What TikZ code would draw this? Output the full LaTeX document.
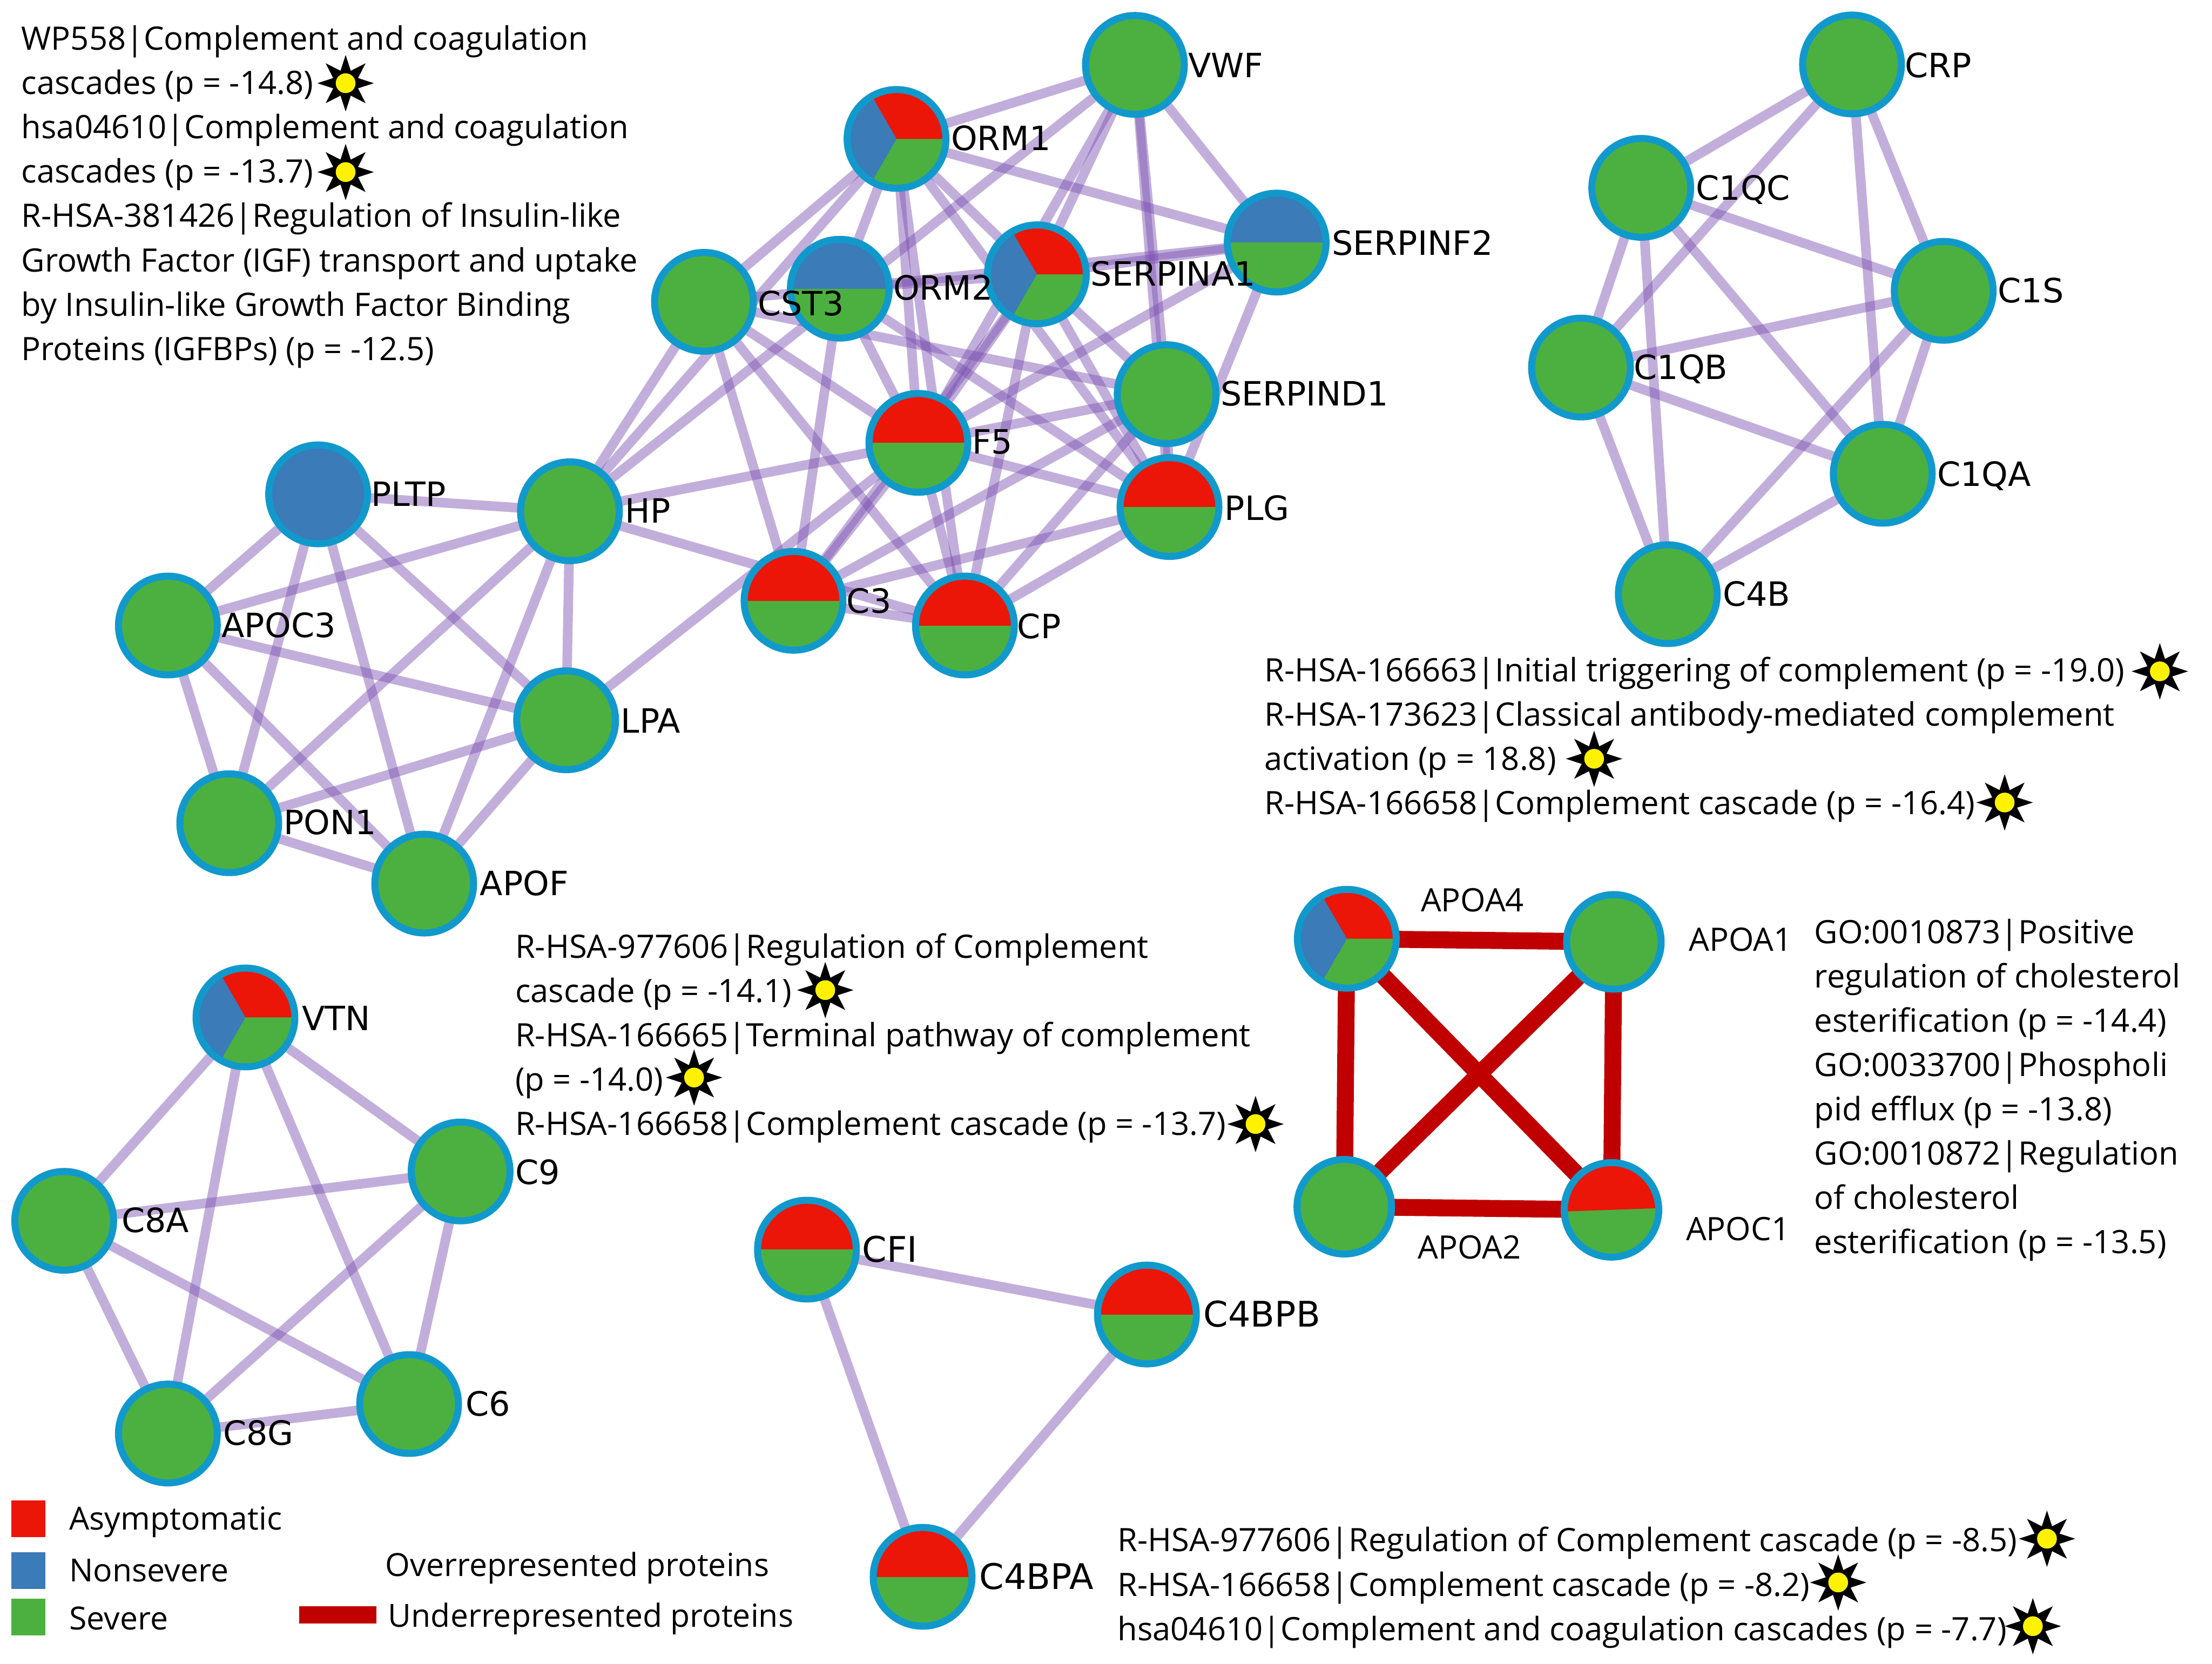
\documentclass[tikz,border=0pt]{standalone}
\usepackage{fontspec}
\setmainfont{Open Sans}
\newfontfamily\netfont{DejaVu Sans}
\usetikzlibrary{shapes.geometric,backgrounds}
\definecolor{cGreen}{HTML}{4CB040}
\definecolor{cRed}{HTML}{EB1508}
\definecolor{cBlue}{HTML}{3A7BB8}
\definecolor{cRim}{HTML}{1199CC}
\definecolor{cEdge}{HTML}{7A4FB0}
\definecolor{cDown}{HTML}{C00000}
\tikzset{
  x=1pt,y=-1pt,
  prot/.style={circle,draw=cRim,line width=5pt,fill=cGreen,minimum size=70pt,inner sep=0pt,outer sep=0pt},
  protsmall/.style={prot,minimum size=67pt},
  halfpie/.style={prot,path picture={
    \fill[#1] (path picture bounding box.west) rectangle (path picture bounding box.north east);}},
  halfrot/.style={prot,minimum size=67pt,path picture={
    \fill[cRed] ([shift={(2:60pt)}]path picture bounding box.center) -- ([shift={(182:60pt)}]path picture bounding box.center)
      -- ([shift={(135:90pt)}]path picture bounding box.center) -- ([shift={(45:90pt)}]path picture bounding box.center) -- cycle;}},
  threepie/.style={prot,path picture={
    \fill[cRed] (path picture bounding box.center) -- +(0:60pt) -- +(60:90pt) -- +(120:60pt) -- cycle;
    \fill[cBlue] (path picture bounding box.center) -- +(120:60pt) -- +(180:90pt) -- +(240:60pt) -- cycle;}},
  blueprot/.style={prot,fill=cBlue},
  edgeline/.style={draw=cEdge,opacity=.46,line width=6.8pt},
  downline/.style={draw=cDown,line width=12pt},
  netlabel/.style={anchor=west,inner sep=0pt,font=\netfont\fontsize{23.7}{24}\selectfont,text height=17.5pt,text depth=0pt},
  netlabelbig/.style={netlabel,font=\netfont\fontsize{25}{25}\selectfont},
  plainlabel/.style={anchor=west,inner sep=0pt,font=\fontsize{22.85}{31.4}\selectfont,text height=17pt,text depth=0pt},
  legendlabel/.style={plainlabel,font=\fontsize{22.55}{31.4}\selectfont},
  textblock/.style={anchor=north west,inner sep=0pt,align=left,font=\fontsize{22.85}{31.4}\selectfont},
  sunstar/.style={star,star points=8,star point ratio=2.1,minimum size=40pt,inner sep=0pt,fill=black},
  suncore/.style={circle,minimum size=14pt,inner sep=0pt,fill=yellow},
  legendbox/.style={minimum width=24pt,minimum height=26pt,inner sep=0pt}
}
\newcommand{\sunmark}[3]{\node[sunstar] (#1s) at (#2,#3) {};\node[suncore] (#1c) at (#2,#3) {};}
\begin{document}
\begin{tikzpicture}
\useasboundingbox (0,0) rectangle (1568,1179.7);
% main cluster
\node[prot] (VWF) at (804.5,46) {};
\node[threepie] (ORM1) at (635.5,98.5) {};
\node[halfpie=cBlue] (SERPINF2) at (905,172) {};
\node[threepie] (SERPINA1) at (735,194.5) {};
\node[prot] (CST3) at (499,214) {};
\node[halfpie=cBlue] (ORM2) at (595.3,204.7) {};
\node[prot] (SERPIND1) at (827,279.5) {};
\node[halfpie=cRed] (F5) at (651,314) {};
\node[halfpie=cRed] (PLG) at (829,359.5) {};
\node[halfpie=cRed] (C3) at (562.5,426) {};
\node[halfpie=cRed] (CP) at (684,443.5) {};
\node[prot] (HP) at (404,362.5) {};
\node[blueprot] (PLTP) at (225.5,350.5) {};
\node[prot] (APOC3) at (119,443.5) {};
\node[prot] (LPA) at (401.3,510.7) {};
\node[prot] (PON1) at (162.5,583.7) {};
\node[prot] (APOF) at (300.7,626.5) {};
% C1 cluster
\node[prot] (CRP) at (1312.8,45.7) {};
\node[prot] (C1QC) at (1163.4,133.2) {};
\node[prot] (C1S) at (1377.8,206.2) {};
\node[prot] (C1QB) at (1120.7,260.6) {};
\node[prot] (C1QA) at (1334.6,335.9) {};
\node[prot] (C4B) at (1182.2,421.3) {};
% C8 cluster
\node[threepie] (VTN) at (174,721.4) {};
\node[prot] (C9) at (326.5,830.6) {};
\node[prot] (C8A) at (45.5,865.6) {};
\node[prot] (C8G) at (119,1016.4) {};
\node[prot] (C6) at (290,995.5) {};
% triangle
\node[halfpie=cRed] (CFI) at (572,886) {};
\node[halfpie=cRed] (C4BPB) at (813,932) {};
\node[halfpie=cRed] (C4BPA) at (654,1118) {};
% APOA square
\node[threepie] (APOA4) at (954.7,665.6) {};
\node[protsmall] (APOA1) at (1144,667.8) {};
\node[protsmall] (APOA2) at (952.9,855.6) {};
\node[halfrot] (APOC1) at (1142.3,857.8) {};
\begin{pgfonlayer}{background}
\foreach \a/\b in {VWF/ORM1,VWF/HP,VWF/SERPINA1,VWF/F5,VWF/SERPIND1,VWF/PLG,VWF/SERPINF2,
  ORM1/SERPINF2,ORM1/SERPINA1,ORM1/ORM2,ORM1/CST3,ORM1/HP,ORM1/F5,ORM1/CP,ORM1/PLG,
  CST3/ORM2,CST3/HP,CST3/F5,CST3/C3,CST3/CP,CST3/SERPIND1,
  ORM2/SERPINA1,ORM2/SERPINF2,ORM2/F5,ORM2/PLG,ORM2/C3,
  SERPINA1/SERPINF2,SERPINA1/F5,SERPINA1/C3,SERPINA1/CP,SERPINA1/SERPIND1,SERPINA1/PLG,
  SERPINF2/F5,SERPINF2/PLG,
  SERPIND1/F5,SERPIND1/C3,SERPIND1/CP,SERPIND1/PLG,
  F5/HP,F5/C3,F5/CP,F5/PLG,F5/LPA,
  PLG/C3,PLG/CP,C3/CP,HP/CP,
  PLTP/HP,PLTP/APOC3,PLTP/PON1,PLTP/APOF,PLTP/LPA,
  APOC3/HP,APOC3/LPA,APOC3/PON1,APOC3/APOF,
  HP/PON1,HP/APOF,HP/LPA,LPA/PON1,LPA/APOF,PON1/APOF,
  CRP/C1QC,CRP/C1QB,CRP/C1QA,CRP/C1S,C1QC/C1S,C1QC/C1QA,C1QC/C1QB,C1QC/C4B,
  C1S/C1QB,C1S/C1QA,C1S/C4B,C1QB/C1QA,C1QB/C4B,C1QA/C4B,
  VTN/C8A,VTN/C8G,VTN/C6,VTN/C9,C8A/C9,C8A/C8G,C8A/C6,C9/C8G,C9/C6,C8G/C6,
  CFI/C4BPB,CFI/C4BPA,C4BPB/C4BPA}
  {\draw[edgeline] (\a) -- (\b);}
\foreach \a/\b in {APOA4/APOA1,APOA4/APOA2,APOA4/APOC1,APOA1/APOA2,APOA1/APOC1,APOA2/APOC1}
  {\draw[downline] (\a) -- (\b);}
\end{pgfonlayer}
% protein labels
\node[netlabel] (tVWF) at (842,46) {VWF};
\node[netlabel] (tORM1) at (674,98) {ORM1};
\node[netlabel] (tSERPINF2) at (944,172) {SERPINF2};
\node[netlabel] (tSERPINA1) at (773,194) {SERPINA1};
\node[netlabel] (tORM2) at (633,204) {ORM2};
\node[netlabel] (tCST3) at (537,215) {CST3};
\node[netlabel] (tSERPIND1) at (865,279) {SERPIND1};
\node[netlabel] (tF5) at (689,313) {F5};
\node[netlabel] (tPLG) at (868,360) {PLG};
\node[netlabel] (tC3) at (600,426) {C3};
\node[netlabel] (tCP) at (721,444) {CP};
\node[netlabel] (tHP) at (443,362) {HP};
\node[netlabel] (tPLTP) at (263,350) {PLTP};
\node[netlabel] (tAPOC3) at (157,443) {APOC3};
\node[netlabel] (tLPA) at (440,511) {LPA};
\node[netlabel] (tPON1) at (201,583) {PON1};
\node[netlabel] (tAPOF) at (340,626) {APOF};
\node[netlabel] (tCRP) at (1350,46) {CRP};
\node[netlabel] (tC1QC) at (1202,133) {C1QC};
\node[netlabel] (tC1S) at (1416,206) {C1S};
\node[netlabel] (tC1QB) at (1158,260) {C1QB};
\node[netlabel] (tC1QA) at (1373,336) {C1QA};
\node[netlabel] (tC4B) at (1221,421) {C4B};
\node[netlabel] (tVTN) at (214,722) {VTN};
\node[netlabel] (tC9) at (365,831) {C9};
\node[netlabel] (tC8A) at (86,865) {C8A};
\node[netlabel] (tC8G) at (158,1016) {C8G};
\node[netlabel] (tC6) at (330,995) {C6};
\node[netlabelbig] (tCFI) at (611,886) {CFI};
\node[netlabelbig] (tC4BPB) at (853,932) {C4BPB};
\node[netlabelbig] (tC4BPA) at (694,1118) {C4BPA};
\node[plainlabel] (tAPOA4) at (1007,638) {APOA4};
\node[plainlabel] (tAPOA1) at (1197,666) {APOA1};
\node[plainlabel] (tAPOA2) at (1005,884) {APOA2};
\node[plainlabel] (tAPOC1) at (1195,871) {APOC1};
% enrichment text
\node[textblock] (block1) at (15,18) {WP558|Complement and coagulation\\cascades (p = -14.8)\\hsa04610|Complement and coagulation\\cascades (p = -13.7)\\R-HSA-381426|Regulation of Insulin-like\\Growth Factor (IGF) transport and uptake\\by Insulin-like Growth Factor Binding\\Proteins (IGFBPs) (p = -12.5)};
\node[textblock] (block2) at (896,465.5) {R-HSA-166663|Initial triggering of complement (p = -19.0)\\R-HSA-173623|Classical antibody-mediated complement\\activation (p = 18.8)\\R-HSA-166658|Complement cascade (p = -16.4)};
\node[textblock] (block3) at (365,661.5) {R-HSA-977606|Regulation of Complement\\cascade (p = -14.1)\\R-HSA-166665|Terminal pathway of complement\\(p = -14.0)\\R-HSA-166658|Complement cascade (p = -13.7)};
\node[textblock] (block4) at (1286,651.5) {GO:0010873|Positive\\regulation of cholesterol\\esterification (p = -14.4)\\GO:0033700|Phospholi\\pid efflux (p = -13.8)\\GO:0010872|Regulation\\of cholesterol\\esterification (p = -13.5)};
\node[textblock] (block5) at (792,1082.5) {R-HSA-977606|Regulation of Complement cascade (p = -8.5)\\R-HSA-166658|Complement cascade (p = -8.2)\\hsa04610|Complement and coagulation cascades (p = -7.7)};
% stars
\sunmark{a}{245}{59}
\sunmark{b}{245}{122}
\sunmark{c}{1531}{476}
\sunmark{d}{1130}{538}
\sunmark{e}{1421}{569}
\sunmark{f}{585}{702}
\sunmark{g}{492}{764}
\sunmark{h}{890}{797}
\sunmark{i}{1451}{1091}
\sunmark{j}{1303}{1122}
\sunmark{k}{1441}{1153}
% legend
\node[legendbox,fill=cRed] (keyA) at (20,1077) {};
\node[legendbox,fill=cBlue] (keyB) at (20,1113.5) {};
\node[legendbox,fill=cGreen] (keyC) at (20,1146.5) {};
\node[legendlabel] (txtA) at (49,1076) {Asymptomatic};
\node[legendlabel] (txtB) at (49,1113) {Nonsevere};
\node[legendlabel] (txtC) at (49,1147) {Severe};
\node[legendlabel] (txtD) at (273,1109) {Overrepresented proteins};
\node[legendlabel] (txtE) at (275,1145) {Underrepresented proteins};
\node[minimum width=55pt,minimum height=12pt,inner sep=0pt,fill=cDown] (keyE) at (239.5,1145) {};
\end{tikzpicture}
\end{document}
